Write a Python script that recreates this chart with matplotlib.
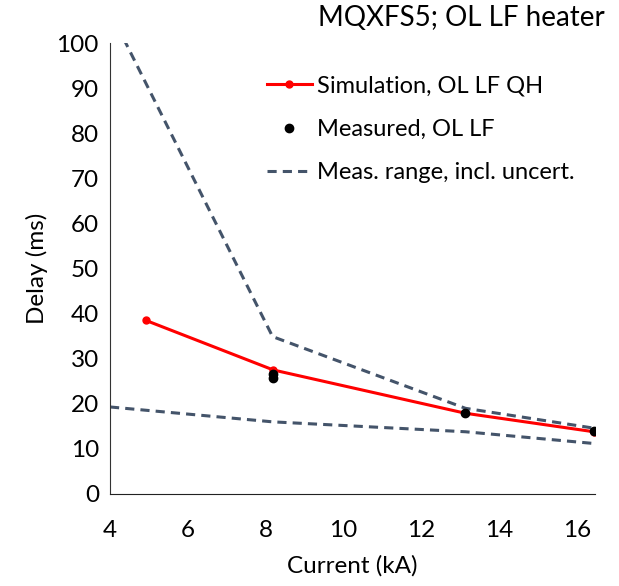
import matplotlib
matplotlib.use('Agg')
import matplotlib.pyplot as plt

plt.rcParams['font.family'] = ['Lato', 'DejaVu Sans']

# simulation, OL LF QH
sim_current = [4.92, 8.20, 13.14, 16.44]
sim_delay = [38.5, 27.5, 17.9, 13.8]

# measured points
meas_current = [8.20, 8.20, 13.14, 16.44]
meas_delay = [26.5, 25.8, 17.9, 13.9]

# measured range incl. uncertainty
upper_current = [4.0, 8.18, 13.14, 16.44]
upper_delay = [107.0, 34.9, 19.0, 14.6]
lower_current = [4.0, 8.18, 13.14, 16.44]
lower_delay = [19.3, 16.0, 13.8, 11.2]

x_ticks = [4, 6, 8, 10, 12, 14, 16]
y_ticks = [0, 10, 20, 30, 40, 50, 60, 70, 80, 90, 100]

fig = plt.figure(figsize=(6.19, 5.86), dpi=100)
ax = fig.add_axes([0.1777, 0.157, 0.7835, 0.7696])

dash_col = '#44546A'
ax.plot(sim_current, sim_delay, color='#FF0000', lw=2.2, marker='o', ms=5,
        label='Simulation, OL LF QH', zorder=3)
ax.plot(meas_current, meas_delay, ls='none', marker='o', color='black', ms=6,
        label='Measured, OL LF', zorder=4)
ax.plot(upper_current, upper_delay, color=dash_col, lw=2.2, ls=(0, (3, 2)),
        label='Meas. range, incl. uncert.', zorder=2)
ax.plot(lower_current, lower_delay, color=dash_col, lw=2.2, ls=(0, (3, 2)), zorder=2)

ax.set_xlim(4, 16.47)
ax.set_ylim(0, 100)
ax.set_xticks(x_ticks)
ax.set_yticks(y_ticks)
ax.tick_params(length=0, labelsize=17.5)
ax.tick_params(axis='x', pad=19)
ax.tick_params(axis='y', pad=8)

for s in ['top', 'right']:
    ax.spines[s].set_visible(False)
ax.spines['left'].set_color('#333333')
ax.spines['bottom'].set_color('#222222')

ax.set_xlabel('Current (kA)', fontsize=17.5, labelpad=10)
ax.set_ylabel('Delay (ms)', fontsize=17.5, labelpad=6)
fig.text(0.745, 0.97, 'MQXFS5; OL LF heater', fontsize=20, ha='center', va='center')

ax.legend(loc='upper left', bbox_to_anchor=(0.28, 0.975), frameon=False, fontsize=17,
          handlelength=1.9, handletextpad=0.2, labelspacing=0.95)

fig.savefig('out.png', dpi=100)
